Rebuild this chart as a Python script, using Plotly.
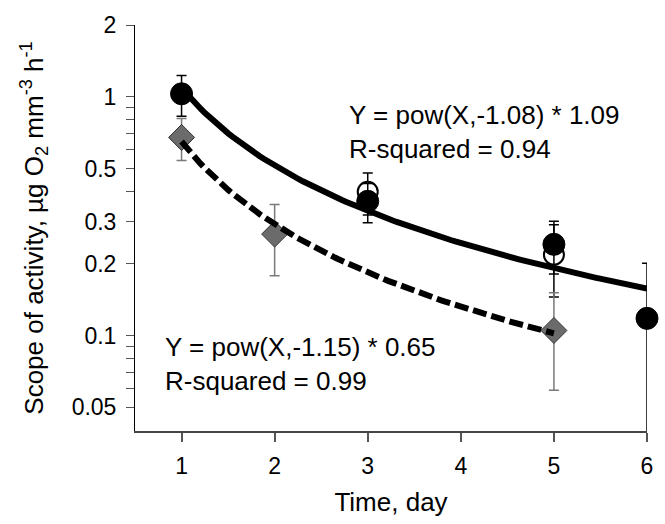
import numpy as np
import plotly.graph_objects as go

# filled circles
day_filled = [1, 3, 5, 6]
scope_filled = [1.03, 0.365, 0.241, 0.118]
err_filled = [0.20, 0.068, 0.06, 0.083]

# open circles
day_open = [3, 5]
scope_open = [0.40, 0.218]
err_open = [0.08, 0.073]

# diamonds
day_diam = [1, 2, 5]
scope_diam = [0.676, 0.266, 0.105]
err_diam = [0.135, 0.088, 0.046]

# fitted power curves, Y = b * X^a
fit1_a, fit1_b, fit1_end = -1.08, 1.09, 6
fit2_a, fit2_b, fit2_end = -1.15, 0.65, 5

y_tickvals = [0.05, 0.06, 0.07, 0.08, 0.09, 0.1, 0.2, 0.3, 0.4, 0.5, 0.6, 0.7, 0.8, 0.9, 1, 2]
y_ticktext = ['0.05', '', '', '', '', '0.1', '0.2', '0.3', '', '0.5', '', '', '', '', '1', '2']

FONT = 'Liberation Sans, Arial, sans-serif'

fig = go.Figure()

fig.add_trace(go.Scatter(
    x=day_open, y=scope_open, mode='markers', cliponaxis=False,
    marker=dict(symbol='circle', size=20, color='white', line=dict(color='black', width=2)),
    error_y=dict(type='data', array=err_open, color='black', thickness=1.5, width=5)))

fig.add_trace(go.Scatter(
    x=day_filled, y=scope_filled, mode='markers', cliponaxis=False,
    marker=dict(symbol='circle', size=22, color='black', line=dict(color='black', width=1)),
    error_y=dict(type='data', array=err_filled, color='black', thickness=1.5, width=5)))

fig.add_trace(go.Scatter(
    x=day_diam, y=scope_diam, mode='markers', cliponaxis=False,
    marker=dict(symbol='diamond', size=20, color='#6b6b6b', line=dict(color='#333333', width=1)),
    error_y=dict(type='data', array=err_diam, color='#7a7a7a', thickness=1.5, width=5)))

x1 = np.linspace(1, fit1_end, 120)
fig.add_trace(go.Scatter(x=x1, y=fit1_b * x1 ** fit1_a, mode='lines',
                         line=dict(color='black', width=6)))

x2 = np.linspace(1, fit2_end, 120)
fig.add_trace(go.Scatter(x=x2, y=fit2_b * x2 ** fit2_a, mode='lines',
                         line=dict(color='black', width=6, dash='14px,5px')))

# equation labels: one text block per fit
ann_font = dict(family=FONT, size=26, color='black')
fig.add_annotation(x=2.78, y=np.log10(0.715), text='Y = pow(X,-1.08) * 1.09<br>R-squared = 0.94',
                   xanchor='left', yanchor='middle', align='left', showarrow=False, font=ann_font)
fig.add_annotation(x=0.8, y=np.log10(0.0762), text='Y = pow(X,-1.15) * 0.65<br>R-squared = 0.99',
                   xanchor='left', yanchor='middle', align='left', showarrow=False, font=ann_font)

fig.update_layout(
    width=665, height=524,
    margin=dict(l=135, r=18, t=20, b=77),
    paper_bgcolor='white', plot_bgcolor='white',
    showlegend=False,
    font=dict(family=FONT, size=23, color='black'),
    xaxis=dict(range=[0.5, 6], tickvals=[1, 2, 3, 4, 5, 6], showgrid=False, zeroline=False,
               showline=True, linecolor='#444', linewidth=1.5,
               ticks='outside', ticklen=9, tickcolor='#555', tickwidth=1.5,
               ticklabelstandoff=5,
               title=dict(text='Time, day', standoff=14, font=dict(size=26))),
    yaxis=dict(type='log', range=[-1.40, np.log10(2)], tickvals=y_tickvals, ticktext=y_ticktext,
               showgrid=False, zeroline=False, showline=True, linecolor='black', linewidth=1,
               ticks='outside', ticklen=8, tickcolor='#555', tickwidth=1.2,
               ticklabelstandoff=5,
               title=dict(text='Scope of activity, µg O<sub>2</sub> mm<sup>-3</sup> h<sup>-1</sup>',
                          standoff=20, font=dict(size=26))),
)

fig.write_html("out.html", config={'displayModeBar': False},
               post_script="document.body.style.margin='0';")
